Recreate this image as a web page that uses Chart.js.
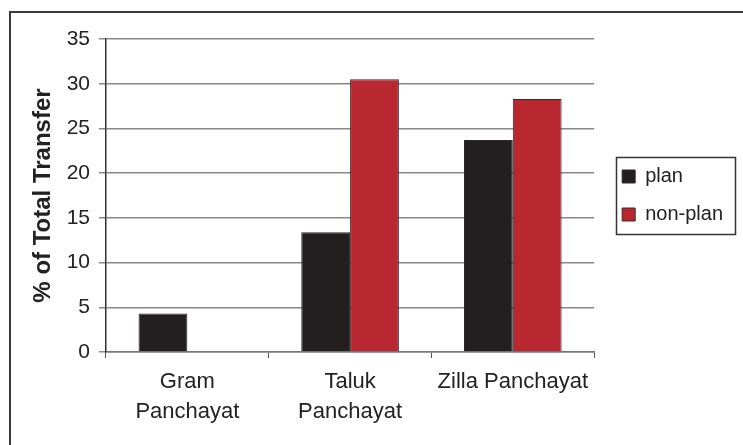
<!DOCTYPE html>
<html>
<head>
<meta charset="utf-8">
<script src="https://cdn.jsdelivr.net/npm/chart.js@4.4.1/dist/chart.umd.min.js"></script>
<style>
  html, body { margin: 0; padding: 0; background: #fff; }
  #wrap { position: relative; width: 743px; height: 445px; }
</style>
</head>
<body>
<div id="wrap"><canvas id="c" width="743" height="445"></canvas></div>
<script>
const categories = [["Gram", "Panchayat"], ["Taluk", "Panchayat"], "Zilla Panchayat"];
const planValues = [4.3, 13.4, 23.7];
const nonPlanValues = [null, 30.5, 28.3];
const seriesNames = ["plan", "non-plan"];
const yTicks = [0, 5, 10, 15, 20, 25, 30, 35];

const FONT = "'Liberation Sans', Arial, sans-serif";

const framePlugin = {
  id: 'frame',
  beforeDraw(chart) {
    const ctx = chart.ctx;
    ctx.save();
    ctx.fillStyle = '#fff';
    ctx.fillRect(0, 0, chart.width, chart.height);
    ctx.strokeStyle = '#3a3a3a';
    ctx.lineWidth = 2;
    ctx.beginPath();
    ctx.moveTo(10, chart.height + 5);
    ctx.lineTo(10, 12);
    ctx.lineTo(chart.width + 5, 12);
    ctx.stroke();
    ctx.restore();
  }
};

// Place the legend next to the plot area and centre it on the plot's height,
// then draw a frame round its items.
const legendBoxPlugin = {
  id: 'legendBox',
  afterUpdate(chart) {
    const lg = chart.legend, ca = chart.chartArea;
    if (!lg) return;
    const w = lg.width;
    lg.left = ca.right + 10;
    lg.right = lg.left + w;
    lg.top = ca.top;
    lg.bottom = ca.bottom;
    lg.height = ca.bottom - ca.top;
  },
  afterDraw(chart) {
    const lg = chart.legend;
    if (!lg || !lg.columnSizes || !lg.columnSizes.length) return;
    const pad = lg.options.labels.padding;
    const col = lg.columnSizes[0];
    const top0 = (lg.top + pad + lg.bottom - col.height) / 2;
    const x0 = lg.left + pad;
    const ctx = chart.ctx;
    ctx.save();
    ctx.strokeStyle = '#333';
    ctx.lineWidth = 1.5;
    const L = Math.round(x0 - 6), T = Math.round(top0 - 10);
    const R = Math.round(x0 + col.width + 12), B = Math.round(top0 + col.height - pad + 9);
    ctx.strokeRect(L + 0.5, T + 0.5, R - L, B - T);
    ctx.restore();
  }
};

new Chart(document.getElementById('c'), {
  type: 'bar',
  data: {
    labels: categories,
    datasets: [
      { label: seriesNames[0], data: planValues, backgroundColor: '#231f20', borderColor: '#2a2a2a', borderWidth: 1 },
      { label: seriesNames[1], data: nonPlanValues, backgroundColor: '#b92830', borderColor: '#3a2a2a', borderWidth: 1 }
    ]
  },
  options: {
    responsive: false,
    animation: false,
    devicePixelRatio: 1,
    layout: { padding: { left: 25, top: 39, right: 20, bottom: 0 } },
    datasets: { bar: { barPercentage: 1, categoryPercentage: 0.6 } },
    plugins: {
      legend: {
        position: 'right',
        align: 'center',
        labels: {
          font: { family: FONT, size: 20 },
          color: '#222',
          boxWidth: 13,
          boxHeight: 13,
          padding: 18
        }
      },
      tooltip: { enabled: false }
    },
    scales: {
      x: {
        grid: { offset: true, drawOnChartArea: false, drawTicks: true, tickLength: 6, color: '#555' },
        border: { color: '#777', width: 1.5 },
        ticks: { font: { family: FONT, size: 22, lineHeight: 30 / 22 }, color: '#222', padding: 9, maxRotation: 0 },
        afterFit: s => { s.height = 93; }
      },
      y: {
        min: 0, max: 35,
        afterBuildTicks: s => { s.ticks = yTicks.map(v => ({ value: v })); },
        grid: { color: '#888', lineWidth: 1.5, tickLength: 7 },
        border: { color: '#333', width: 1.5 },
        ticks: { font: { family: FONT, size: 21 }, color: '#222', padding: 9 },
        title: { display: true, text: '% of Total Transfer', font: { family: FONT, size: 24, weight: 'bold' }, color: '#222', padding: 4 },
        afterFit: s => { s.width = 81; }
      }
    }
  },
  plugins: [framePlugin, legendBoxPlugin]
});
</script>
</body>
</html>
